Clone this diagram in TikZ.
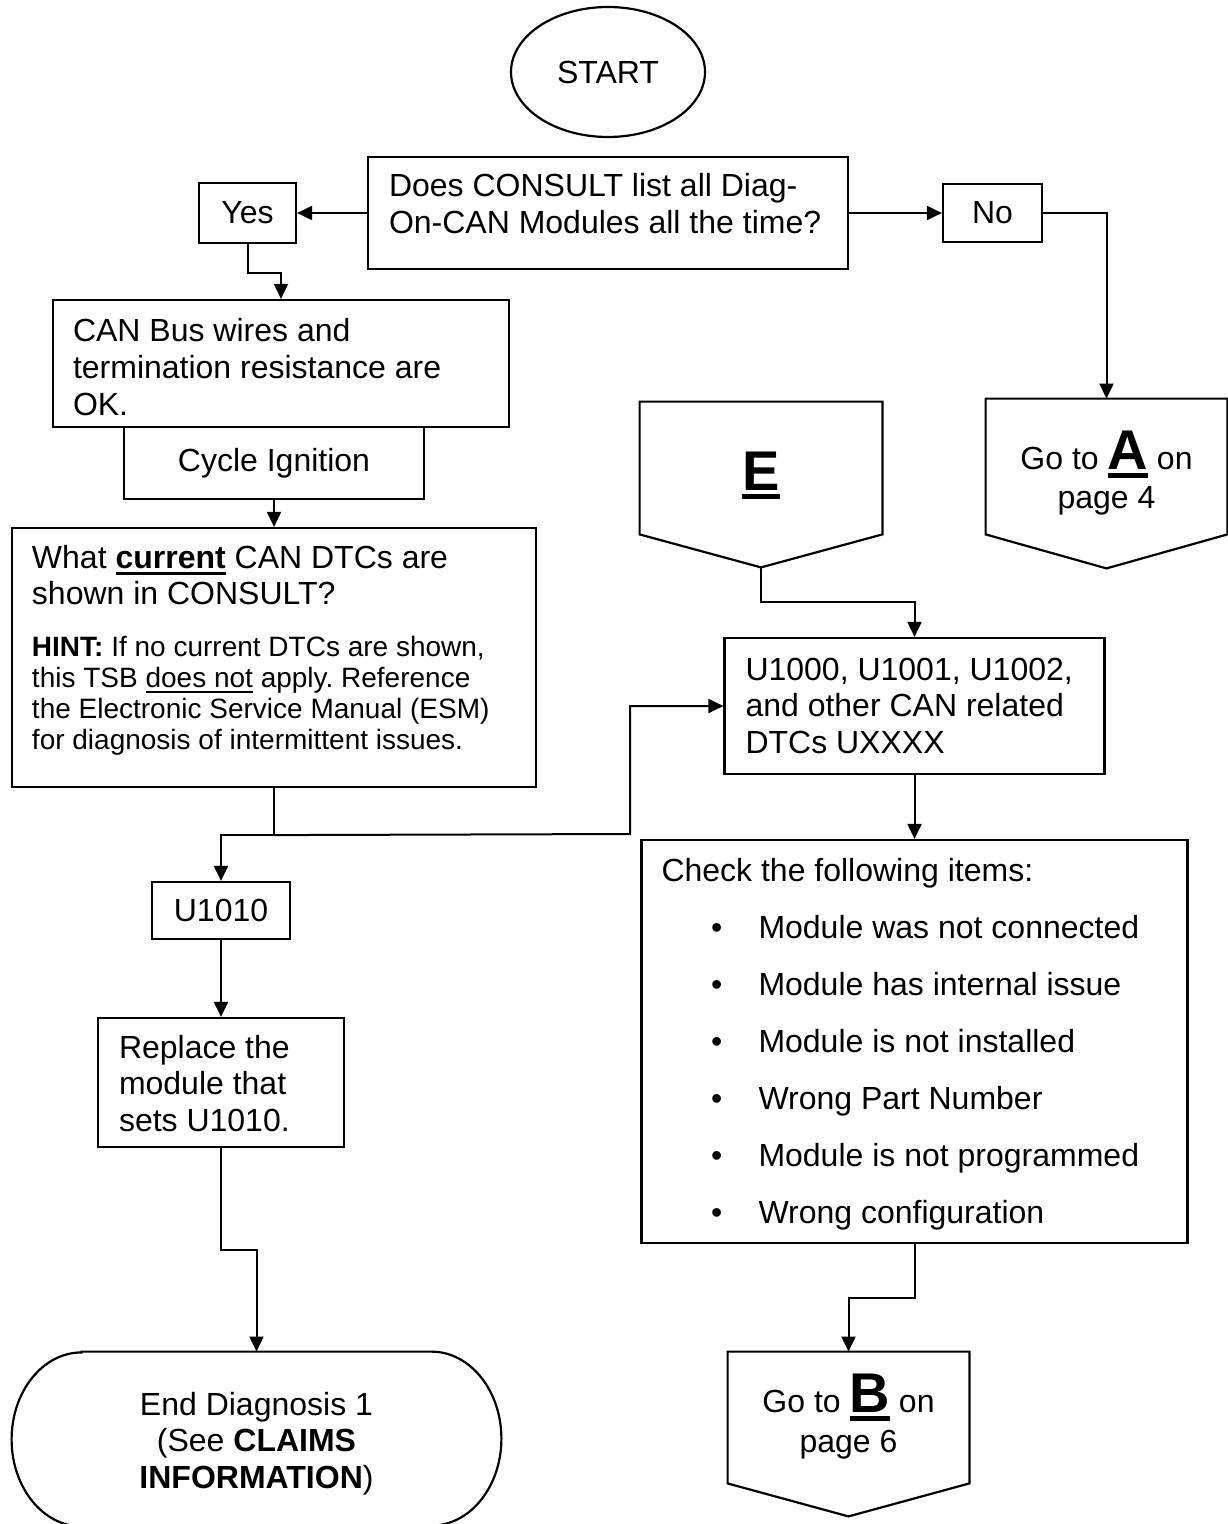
\documentclass[tikz,border=0pt]{standalone}
\usepackage{fontspec}
\setmainfont{Liberation Sans}
\usetikzlibrary{calc,arrows.meta,positioning,shapes.geometric}
\tikzset{
  box/.style={draw,line width=1.1pt,inner sep=0pt},
  txtbox/.style={box,align=flush left},
  goto/.style={inner sep=0pt,align=flush center},
  outline/.style={line width=1.1pt},
  link/.style={line width=1pt},
  every node/.style={font=\fontsize{16}{18.4}\selectfont}
}
\tikzstyle{arrow} = [link,-{Triangle[length=7.5pt,width=7pt]}]
\setlength\parindent{0pt}
\frenchspacing
% first line height / last line depth, to set the text inside its box
\newcommand\topht[1]{\rule{0pt}{#1}}
\newcommand\botdp[1]{\rule[-#1]{0pt}{0pt}}
\newcommand\ulword[2][1.1pt]{\vtop{\hbox{#2}\kern1.6pt\hrule height #1}}
\newcommand\bigletter[1]{\leavevmode\vtop{\hbox{\fontsize{28}{30}\selectfont\bfseries #1}\kern2pt\hrule height 2.7pt}}
\newcommand\chkitem[1]{\\[10.1pt]\hspace*{24.75pt}\makebox[23.75pt][l]{\textbullet}#1}

\begin{document}
\begin{tikzpicture}[x=0.5pt,y=-0.5pt,line join=miter]
  % Page window, 1 unit = 1 pixel
  \useasboundingbox (0,0) rectangle (1227,1524);

  % Start and first question
  \node[box,ellipse,minimum width=97pt,minimum height=65pt] (start) at (608,72) {START};
  \node[txtbox,minimum height=56pt,text width=219pt,inner xsep=10.5pt] (ask) at (608,213)
       {\topht{14pt}Does CONSULT list all Diag-\\On-CAN Modules all the time?\botdp{11.6pt}};
  \node[box,minimum width=48.5pt,minimum height=30pt] (yes) at (247.5,213) {Yes};
  \node[box,minimum width=49.5pt,minimum height=29pt] (no) at (992.5,213) {No};

  % Yes branch
  \node[txtbox,minimum height=63.5pt,text width=208pt,inner xsep=10pt] (busok) at (281,363.5)
       {\topht{19pt}CAN Bus wires and\\termination resistance are\\OK.\botdp{3.7pt}};
  \node[box,minimum width=150pt,minimum height=36pt] (cycle) at (274,463) {Cycle Ignition};
  \node[txtbox,minimum height=129.5pt,text width=242pt,inner xsep=10pt] (dtcs) at (274,657.5)
       {\topht{14pt}What \ulword[1.6pt]{\textbf{current}} CAN DTCs are\\shown in CONSULT?\par\vspace{10.5pt}
        {\fontsize{14}{15.5}\selectfont\textbf{HINT:} If no current DTCs are shown,\\
         this TSB \ulword{does not} apply. Reference\\the Electronic Service Manual (ESM)\\
         for diagnosis of intermittent issues.\botdp{12.6pt}\par}};
  \node[box,minimum width=69pt,minimum height=28.5pt] (u1010) at (221,910.5) {U1010};
  \node[txtbox,minimum height=64.5pt,text width=102pt,inner xsep=10.5pt] (replace) at (221,1082.5)
       {\topht{16pt}Replace the\\module that\\sets U1010.\botdp{3.7pt}};
  \node[goto,minimum width=244.5pt,text width=244.5pt,minimum height=87pt] (endd) at (256.5,1439)
       {\topht{18pt}End Diagnosis 1\\(See \textbf{CLAIMS}\\\textbf{INFORMATION})\botdp{5.2pt}};

  % Off-page connectors
  \node[goto,minimum width=121pt,text width=121pt,minimum height=66pt] (gE) at (761,468)
       {\topht{28pt}\bigletter{E}\botdp{6pt}};
  \node[goto,minimum width=120.5pt,text width=120.5pt,minimum height=67.5pt] (gA) at (1106.5,466.5)
       {\topht{26pt}Go to \bigletter{A} on\\[1.1pt]page 4\botdp{4pt}};
  \node[goto,minimum width=120.5pt,text width=120.5pt,minimum height=65.5pt] (gB) at (848.5,1417.5)
       {\topht{22pt}Go to \bigletter{B} on\\[1.6pt]page 6\botdp{7.5pt}};
  \foreach \g/\d in {gE/33,gA/34,gB/33}
    \draw[outline] (\g.north west) -- (\g.north east) -- (\g.south east)
      -- ($(\g.south)+(0,\d)$) -- (\g.south west) -- cycle;
  \coordinate (gEtip) at ($(gE.south)+(0,33)$);

  % DTC branch
  \node[txtbox,minimum height=68pt,text width=169pt,inner xsep=10.5pt] (ucodes) at (914.5,706)
       {\topht{17pt}U1000, U1001, U1002,\\and other CAN related\\DTCs UXXXX\botdp{6.2pt}};
  \node[txtbox,minimum height=201.5pt,text width=253pt,inner xsep=10pt] (check) at (914.5,1041.5)
       {\topht{16pt}Check the following items:%
        \chkitem{Module was not connected}%
        \chkitem{Module has internal issue}%
        \chkitem{Module is not installed}%
        \chkitem{Wrong Part Number}%
        \chkitem{Module is not programmed}%
        \chkitem{Wrong configuration}\botdp{5.5pt}};

  % Terminator outline
  \draw[outline] ($(endd.north west)+(70,0)$) -- ($(endd.north east)+(-70,0)$)
    arc[start angle=-90,end angle=90,x radius=70,y radius=87]
    -- ($(endd.south west)+(70,0)$)
    arc[start angle=90,end angle=270,x radius=70,y radius=87] -- cycle;

  % Connectors
  \draw[arrow] (ask.west) -- (yes.east);
  \draw[arrow] (ask.east) -- (no.west);
  \draw[arrow] (no.east) -| (gA.north);
  \draw[arrow] (yes.south) -- ++(0,29) -| (busok.north);
  \draw[arrow] (cycle.south) -- (dtcs.north);
  \coordinate (fork) at ($(dtcs.south)+(0,47)$);
  \coordinate (bend) at (630,834);
  \draw[link] (dtcs.south) -- (fork);
  \draw[arrow] (fork) -| (u1010.north);
  \draw[arrow] (fork) -- (bend) |- (ucodes.west);
  \draw[arrow] (u1010.south) -- (replace.north);
  \draw[arrow] (replace.south) -- ++(0,102) -| (endd.north);
  \draw[arrow] (gEtip) -- ++(0,35) -| (ucodes.north);
  \draw[arrow] (ucodes.south) -- (check.north);
  \draw[arrow] (check.south) -- ++(0,54) -| (gB.north);
\end{tikzpicture}
\end{document}
